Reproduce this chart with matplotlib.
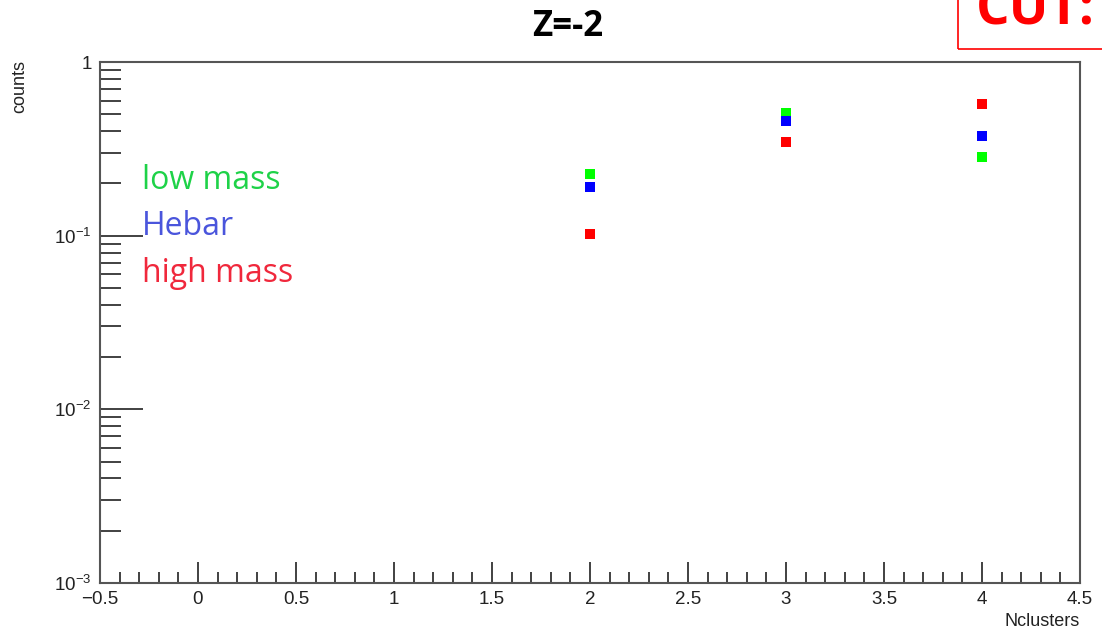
import numpy as np
import matplotlib.pyplot as plt
from matplotlib.ticker import MultipleLocator, LogLocator, FuncFormatter
from matplotlib.patches import Rectangle

nclusters = [2, 3, 4]
low_mass = [0.226, 0.511, 0.283]
hebar = [0.190, 0.459, 0.376]
high_mass = [0.102, 0.345, 0.573]

series = [("low mass", low_mass, "#00ff00", "#1ed248"),
          ("Hebar", hebar, "#0000ff", "#4a55dc"),
          ("high mass", high_mass, "#ff0000", "#f0283c")]

plt.rcParams['font.family'] = ['Liberation Sans', 'DejaVu Sans']

fig = plt.figure(figsize=(11.02, 6.34), dpi=100)
ax = fig.add_axes([0.0907, 0.0804, 0.8893, 0.8218])

for name, vals, c, tc in series:
    ax.plot(nclusters, vals, 's', color=c, markersize=7.5, markeredgewidth=0)

ax.set_xlim(-0.5, 4.5)
ax.set_yscale('log')
ax.set_ylim(1e-3, 1)

ax.xaxis.set_major_locator(MultipleLocator(0.5))
ax.xaxis.set_minor_locator(MultipleLocator(0.1))
ax.xaxis.set_major_formatter(FuncFormatter(lambda v, p: '\u22120.5' if v < 0 else ('%g' % v)))
ax.yaxis.set_major_locator(LogLocator(base=10))
ax.yaxis.set_minor_locator(LogLocator(base=10, subs=np.arange(2, 10)))
ax.yaxis.set_minor_formatter(FuncFormatter(lambda v, p: ''))
ax.yaxis.set_major_formatter(FuncFormatter(
    lambda v, p: '1' if abs(v - 1) < 1e-9 else r'$\mathregular{10^{%d}}$' % round(np.log10(v))))

ax.tick_params(axis='both', which='both', direction='in', colors='#333333',
               labelcolor='#222222', labelsize=13.5)
ax.tick_params(axis='x', which='major', length=15, width=1.3, pad=6)
ax.tick_params(axis='x', which='minor', length=8, width=1.3)
ax.tick_params(axis='y', which='major', length=31, width=1.3, pad=6)
ax.tick_params(axis='y', which='minor', length=15, width=1.3)
for s in ax.spines.values():
    s.set_color('#555555')
    s.set_linewidth(1.5)

fig.text(0.515, 0.958, "Z=-2", fontsize=25, fontweight='bold', ha='center', va='center',
         family=['Open Sans', 'DejaVu Sans'])
fig.text(0.010, 0.905, "counts", rotation=90, ha='left', va='top', fontsize=13, color='#222222')
fig.text(0.980, 0.006, "Nclusters", ha='right', va='bottom', fontsize=13, color='#222222')

ys = [0.716, 0.642, 0.569]
for (name, vals, c, tc), y in zip(series, ys):
    fig.text(0.129, y, name, color=tc, fontsize=23, family=['Open Sans', 'DejaVu Sans'], va='center')

fig.patches.append(Rectangle((0.869, 0.922), 0.2, 0.2, transform=fig.transFigure,
                             fill=False, edgecolor='#ff0000', linewidth=1.2))
fig.text(0.886, 0.9606, "CUT:", color='#ff0000', fontsize=38, fontweight='bold',
         family=['Open Sans', 'DejaVu Sans'], va='baseline', ha='left')

fig.savefig('out.png', dpi=100)
